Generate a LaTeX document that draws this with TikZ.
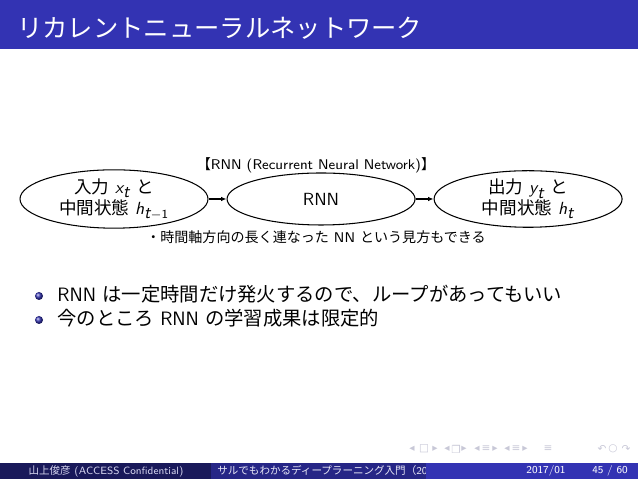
\documentclass[tikz,border=0pt]{standalone}
\usepackage{fontspec}
\newfontfamily\jp{Noto Sans CJK JP}
\newfontfamily\symfont{DejaVu Sans}
\usetikzlibrary{shapes.geometric, arrows.meta, positioning}
\definecolor{structblue}{RGB}{51,51,179}
\definecolor{footdark}{RGB}{25,25,90}
\definecolor{footmid}{RGB}{38,38,134}
\definecolor{navgray}{RGB}{200,200,215}
% sans italic letters, as in beamer's math
\newcommand{\mv}[1]{\textsf{\itshape #1}}

\begin{document}
\begin{tikzpicture}[x=0.2mm, y=-0.2mm, >={Latex[length=1.1mm, width=0.9mm]}, font=\sffamily]
    \tikzstyle{stage} = [ellipse, draw=black, line width=0.6pt, minimum width=37.6mm, minimum height=10.4mm, inner sep=0pt, align=center, font=\sffamily\fontsize{10}{12}\selectfont]
    \tikzstyle{note} = [inner sep=0pt, font=\sffamily\fontsize{8}{10}\selectfont]
    \tikzstyle{item} = [anchor=west, inner sep=0pt, font=\sffamily\fontsize{11}{13}\selectfont]
    \tikzstyle{ball} = [circle, inner sep=0pt, minimum size=1.6mm, ball color=structblue]
    \tikzstyle{foot} = [inner sep=0pt, font=\sffamily\fontsize{6}{7}\selectfont]

    \useasboundingbox (0,0) rectangle (638,479);

    % frame title
    \fill[structblue] (0,0) rectangle (638,49);
    \node[anchor=west, inner sep=0pt, text=white, font=\jp\fontsize{14.4}{17}\selectfont] (title) at (17,28) {リカレントニューラルネットワーク};

    % RNN chain
    \node[stage] (inp) at (114,199) {{\jp 入力} $\mv{x}_{\mv{t}}$ {\jp と}\\{\jp 中間状態} $\mv{h}_{\mv{t}-\mathsf{1}}$};
    \node[stage, right=3.6mm of inp] (rnn) {RNN};
    \node[stage, right=3.6mm of rnn] (out) {{\jp 出力} $\mv{y}_{\mv{t}}$ {\jp と}\\{\jp 中間状態} $\mv{h}_{\mv{t}}$};
    \draw[->, line width=0.6pt] (inp) -- (rnn);
    \draw[->, line width=0.6pt] (rnn) -- (out);

    \node[note] (head) at (316,165) {{\jp 【}RNN (Recurrent Neural Network){\jp 】}};
    \node[note] (tail) at (316,237) {{\jp ・時間軸方向の長く連なった} NN {\jp という見方もできる}};

    % items
    \node[ball] (d1) at (39,296) {};
    \node[ball] (d2) at (39,320) {};
    \node[item] (b1) at (57,294) {RNN {\jp は一定時間だけ発火するので、ループがあってもいい}};
    \node[item] (b2) at (57,318) {{\jp 今のところ} RNN {\jp の学習成果は限定的}};

    % navigation symbols
    \foreach \x/\s in {412/◂, 424/□, 435/▸, 447/◂, 456/❐, 464/▸, 477/◂, 486/≡, 495/▸, 507/◂, 516/≡, 525/▸, 548/≡, 602/↶, 613/○, 626/↷}
        \node[inner sep=0pt, text=navgray, font=\symfont\fontsize{6}{7}\selectfont] (nav-\x) at (\x,449) {\s};

    % footline
    \fill[footdark] (0,463) rectangle (211,479);
    \fill[footmid] (211,463) rectangle (426,479);
    \fill[structblue] (426,463) rectangle (638,479);
    \node[foot, text=white!80!structblue] (author) at (106,471) {{\jp 山上俊彦} (ACCESS Confidential)};
    \begin{scope}
        \clip (211,463) rectangle (426,479);
        \node[foot, anchor=west, text=white!88!structblue] (talk) at (217,471) {{\jp サルでもわかるディープラーニング入門（}20};
    \end{scope}
    \node[foot, text=white] (date) at (546,471) {2017/01};
    \node[foot, text=white] (page) at (610,471) {45 / 60};
\end{tikzpicture}
\end{document}
